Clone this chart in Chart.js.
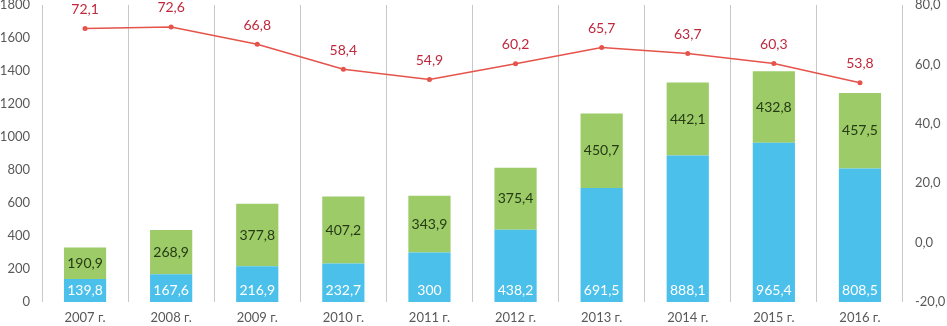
<!DOCTYPE html>
<html><head><meta charset="utf-8">
<script src="https://cdn.jsdelivr.net/npm/chart.js@4/dist/chart.umd.min.js"></script>
<style>html,body{margin:0;padding:0;background:#fff}#wrap{width:947px;height:326px}</style>
</head><body><div id="wrap"><canvas id="c" width="947" height="326"></canvas></div>
<script>
const categories = ['2007 г.','2008 г.','2009 г.','2010 г.','2011 г.','2012 г.','2013 г.','2014 г.','2015 г.','2016 г.'];
const blueValues = [139.8,167.6,216.9,232.7,300,438.2,691.5,888.1,965.4,808.5];
const greenValues = [190.9,268.9,377.8,407.2,343.9,375.4,450.7,442.1,432.8,457.5];
const lineValues = [72.1,72.6,66.8,58.4,54.9,60.2,65.7,63.7,60.3,53.8];

const FONT = 'Lato, "Open Sans", sans-serif';
const fmt = v => String(v).replace('.', ',');

const labelPlugin = {
  id: 'labels',
  afterDatasetsDraw(chart) {
    const ctx = chart.ctx;
    ctx.save();
    ctx.font = '14px ' + FONT;
    ctx.textAlign = 'center';
    ctx.textBaseline = 'middle';
    chart.data.datasets.forEach((ds, di) => {
      const meta = chart.getDatasetMeta(di);
      meta.data.forEach((el, i) => {
        const v = ds.data[i];
        if (ds.type === 'line') {
          ctx.fillStyle = '#C0283C';
          ctx.fillText(fmt(v), el.x, el.y - 19);
        } else if (ds.label === 'blue') {
          ctx.fillStyle = '#ffffff';
          ctx.fillText(fmt(v), el.x, el.base - 12);
        } else {
          ctx.fillStyle = '#263A14';
          ctx.fillText(fmt(v), el.x, (el.y + el.base) / 2);
        }
      });
    });
    ctx.restore();
  }
};

new Chart(document.getElementById('c'), {
  data: {
    labels: categories,
    datasets: [
      { type: 'line', label: 'line', data: lineValues, yAxisID: 'y1', order: 0,
        borderColor: '#E5534B', backgroundColor: '#E5534B', borderWidth: 1.5,
        pointRadius: 2.5, pointBackgroundColor: '#E5534B', pointBorderWidth: 0, tension: 0 },
      { type: 'bar', label: 'blue', data: blueValues, yAxisID: 'y', order: 1,
        backgroundColor: '#4BC0EA', barPercentage: 0.49, categoryPercentage: 1 },
      { type: 'bar', label: 'green', data: greenValues, yAxisID: 'y', order: 1,
        backgroundColor: '#9CCB68', barPercentage: 0.49, categoryPercentage: 1 }
    ]
  },
  options: {
    responsive: false,
    animation: false,
    layout: { padding: { top: 5, left: 0, right: 0, bottom: 0 } },
    plugins: { legend: { display: false }, tooltip: { enabled: false } },
    scales: {
      x: {
        stacked: true,
        grid: { display: true, offset: true, color: '#C8C8C8', lineWidth: 1, drawTicks: false },
        border: { display: false },
        ticks: { color: '#595959', font: { family: FONT, size: 13 }, padding: 8 },
        afterFit(s) { s.height = 24; s.paddingLeft = 0; s.paddingRight = 0; }
      },
      y: {
        stacked: true, position: 'left', min: 0, max: 1800,
        grid: { display: false, drawTicks: false },
        border: { display: false },
        ticks: { stepSize: 200, color: '#595959', font: { family: FONT, size: 13 }, padding: 12,
          callback: v => String(v) },
        afterFit(s) { s.width = 42; s.paddingTop = 0; s.paddingBottom = 0; }
      },
      y1: {
        position: 'right', min: -20, max: 80,
        grid: { display: false, drawTicks: false },
        border: { display: false },
        ticks: { stepSize: 20, color: '#595959', font: { family: FONT, size: 13 }, padding: 12,
          callback: v => v.toFixed(1).replace('.', ',') },
        afterFit(s) { s.width = 44; s.paddingTop = 0; s.paddingBottom = 0; }
      }
    }
  },
  plugins: [labelPlugin]
});
</script>
</body></html>
